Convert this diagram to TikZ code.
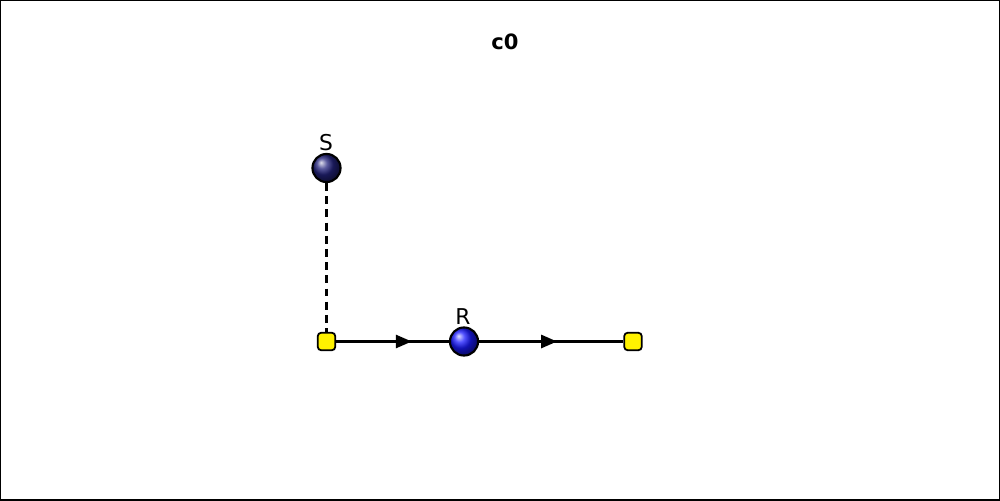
\documentclass[tikz,border=0pt]{standalone}
\usepackage{fontspec}
\setmainfont{DejaVu Sans}
\usetikzlibrary{arrows.meta,decorations.markings}
\begin{document}
\begin{tikzpicture}[x=0.02cm,y=-0.02cm,
  ballS/.style={circle,draw=black,line width=1.2pt,inner sep=0pt,minimum size=16pt,shading=ball,ball color={rgb,255:red,35;green,35;blue,125}},
  ballR/.style={circle,draw=black,line width=1.2pt,inner sep=0pt,minimum size=16pt,shading=ball,ball color={rgb,255:red,25;green,25;blue,255}},
  port/.style={rectangle,rounded corners=2pt,draw=black,line width=1pt,fill=yellow,minimum size=10pt,inner sep=0pt},
  lbl/.style={font=\fontsize{12.4}{14}\selectfont,inner sep=0pt},
  midarrow/.style={decoration={markings,mark=at position #1 with {\arrow{Triangle[length=9pt,width=7.5pt]}}},postaction={decorate}},
  conn/.style={line width=1.2pt}]
\useasboundingbox (0,0) rectangle (1000,500);
\draw[line width=1.3pt] (0,0) rectangle (1000,500);
\node[font=\bfseries\fontsize{12}{14}\selectfont] (title) at (505,42) {c0};
\node[ballS] (S) at (326.5,168) {};
\node[ballR] (R) at (464,341.5) {};
\node[port] (p1) at (326.5,341.5) {};
\node[port] (p2) at (633,341.5) {};
\node[lbl] (lS) at (326,143) {S};
\node[lbl] (lR) at (463,317) {R};
\draw[conn,dash pattern=on 4.5pt off 3pt] (S) -- (p1);
\draw[conn,midarrow=0.67] (p1) -- (R);
\draw[conn,midarrow=0.54] (R) -- (p2);
\end{tikzpicture}
\end{document}
